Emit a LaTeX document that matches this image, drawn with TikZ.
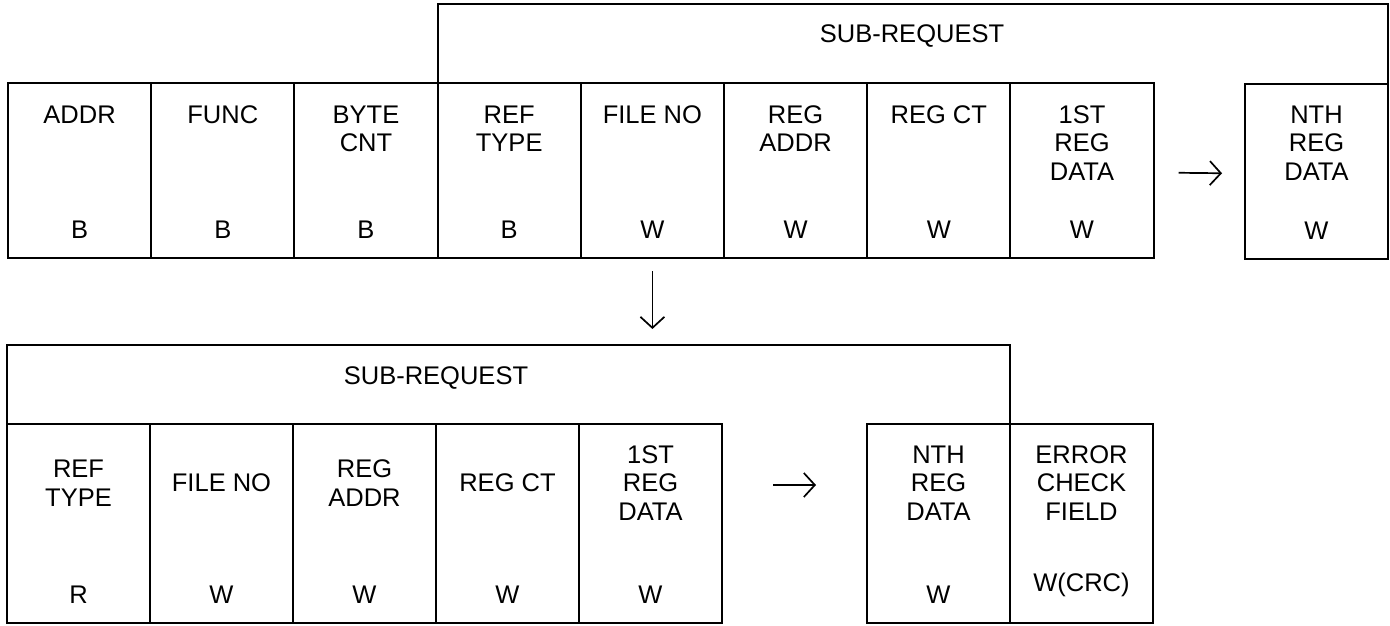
\documentclass[tikz,border=0pt]{standalone}
\usepackage{fontspec}
\setmainfont{Liberation Sans}
\usetikzlibrary{arrows.meta, positioning, calc}

\begin{document}
\begin{tikzpicture}[x=1pt, y=-1pt, line width=2pt,
  font=\fontsize{25.5}{28.5}\selectfont,
  cell/.style={draw, rectangle, inner sep=0pt, outer sep=0pt,
    minimum width=143.2pt, minimum height=175pt},
  lowcell/.style={cell, minimum width=143pt, minimum height=199pt},
  txt/.style={inner sep=0pt, align=center},
  arr/.style={-{Straight Barb[length=11pt, width=24pt]}, line width=1.7pt}]

  % Frame
  \useasboundingbox (0,0) rectangle (1390,625);

  % Upper frame: fixed fields and first sub-request
  \node[cell, anchor=north west] (addr) at (8,83) {};
  \node[cell, right=0pt of addr] (func) {};
  \node[cell, right=0pt of func] (bcnt) {};
  \node[cell, right=0pt of bcnt] (rtype) {};
  \node[cell, right=0pt of rtype] (fno) {};
  \node[cell, right=0pt of fno] (raddr) {};
  \node[cell, right=0pt of raddr] (rct) {};
  \node[cell, right=0pt of rct] (first) {};
  \node[cell, minimum width=143pt, anchor=north east] (nth) at (1388,84) {};

  % Field names (top of each cell)
  \node[txt, anchor=north] (addr-n) at ($(addr.north)+(0,21.5)$) {ADDR};
  \node[txt, anchor=north] (func-n) at ($(func.north)+(0,21.5)$) {FUNC};
  \node[txt, anchor=north] (bcnt-n) at ($(bcnt.north)+(0,21.5)$) {BYTE\\CNT};
  \node[txt, anchor=north] (rtype-n) at ($(rtype.north)+(0,21.5)$) {REF\\TYPE};
  \node[txt, anchor=north] (fno-n) at ($(fno.north)+(0,21.5)$) {FILE NO};
  \node[txt, anchor=north] (raddr-n) at ($(raddr.north)+(0,21.5)$) {REG\\ADDR};
  \node[txt, anchor=north] (rct-n) at ($(rct.north)+(0,21.5)$) {REG CT};
  \node[txt, anchor=north] (first-n) at ($(first.north)+(0,21.5)$) {1ST\\REG\\DATA};
  \node[txt, anchor=north] (nth-n) at ($(nth.north)+(0,20.5)$) {NTH\\REG\\DATA};

  % Field sizes (bottom of each cell)
  \node[txt] (addr-s) at ($(addr.south)+(0,-28)$) {B};
  \node[txt] (func-s) at ($(func.south)+(0,-28)$) {B};
  \node[txt] (bcnt-s) at ($(bcnt.south)+(0,-28)$) {B};
  \node[txt] (rtype-s) at ($(rtype.south)+(0,-28)$) {B};
  \node[txt] (fno-s) at ($(fno.south)+(0,-28)$) {W};
  \node[txt] (raddr-s) at ($(raddr.south)+(0,-28)$) {W};
  \node[txt] (rct-s) at ($(rct.south)+(0,-28)$) {W};
  \node[txt] (first-s) at ($(first.south)+(0,-28)$) {W};
  \node[txt] (nth-s) at ($(nth.south)+(0,-28)$) {W};

  % Sub-request bracket over the upper frame
  \draw (rtype.north west) -- ++(0,-79) -| (nth.north east);
  \node[txt, anchor=base] (sub1) at (912,42) {SUB-REQUEST};

  \draw[arr, shorten <=25pt, shorten >=23pt] ([yshift=-2pt]first.east) -- ([yshift=-2pt]nth.west);

  % Lower frame: further sub-requests and check field
  \node[lowcell, anchor=north west] (rtype2) at (7,424) {};
  \node[lowcell, right=0pt of rtype2] (fno2) {};
  \node[lowcell, right=0pt of fno2] (raddr2) {};
  \node[lowcell, right=0pt of raddr2] (rct2) {};
  \node[lowcell, right=0pt of rct2] (first2) {};
  \node[lowcell, anchor=north east] (nth2) at (1010,424) {};
  \node[lowcell, right=0pt of nth2] (crc) {};

  \node[txt] (rtype2-n) at ($(rtype2.center)+(0,-40.5)$) {REF\\TYPE};
  \node[txt] (fno2-n) at ($(fno2.center)+(0,-40.5)$) {FILE NO};
  \node[txt] (raddr2-n) at ($(raddr2.center)+(0,-40.5)$) {REG\\ADDR};
  \node[txt] (rct2-n) at ($(rct2.center)+(0,-40.5)$) {REG CT};
  \node[txt] (first2-n) at ($(first2.center)+(0,-40.5)$) {1ST\\REG\\DATA};
  \node[txt] (nth2-n) at ($(nth2.center)+(0,-40.5)$) {NTH\\REG\\DATA};
  \node[txt] (crc-n) at ($(crc.center)+(0,-40.5)$) {ERROR\\CHECK\\FIELD};

  \node[txt] (rtype2-s) at ($(rtype2.south)+(0,-28)$) {R};
  \node[txt] (fno2-s) at ($(fno2.south)+(0,-28)$) {W};
  \node[txt] (raddr2-s) at ($(raddr2.south)+(0,-28)$) {W};
  \node[txt] (rct2-s) at ($(rct2.south)+(0,-28)$) {W};
  \node[txt] (first2-s) at ($(first2.south)+(0,-28)$) {W};
  \node[txt] (nth2-s) at ($(nth2.south)+(0,-28)$) {W};
  \node[txt] (crc-s) at ($(crc.south)+(0,-38)$) {W(CRC)};

  % Sub-request bracket over the lower frame
  \coordinate (b2top) at ($(rtype2.north west)+(0,-79)$);
  \draw (rtype2.north west) -- (b2top) -| (crc.north west);
  \node[txt, anchor=base] (sub2) at ($(raddr2.north east)+(0,-40)$) {SUB-REQUEST};

  \draw[arr, shorten <=51pt, shorten >=51pt] ([yshift=38.5pt]first2.east) -- ([yshift=38.5pt]nth2.west);

  % Continuation into the lower frame
  \draw[arr, shorten <=13pt, shorten >=16pt] (fno.south) -- (fno.south |- b2top);
\end{tikzpicture}
\end{document}
